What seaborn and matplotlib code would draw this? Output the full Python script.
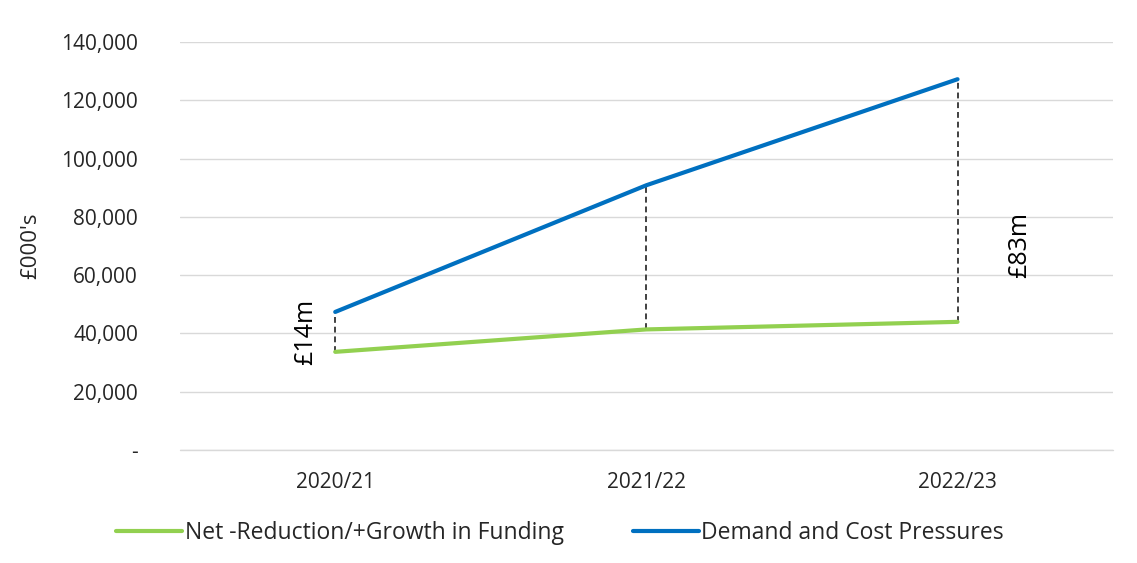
import matplotlib
matplotlib.use("Agg")
import matplotlib.pyplot as plt
import seaborn as sns
import pandas as pd

# data
years = ["2020/21", "2021/22", "2022/23"]
funding = [33700, 41400, 44000]
demand = [47400, 90900, 127300]
gap_labels = ["£14m", "", "£83m"]

sns.set_theme(style="white")
plt.rcParams["font.family"] = ["Open Sans", "DejaVu Sans"]

df = pd.DataFrame({
    "year": years * 2,
    "value": funding + demand,
    "series": ["Net -Reduction/+Growth in Funding"] * 3 + ["Demand and Cost Pressures"] * 3,
})

fig = plt.figure(figsize=(11.37, 5.63), dpi=100)
ax = fig.add_axes([0.158, 0.2007, 0.821, 0.7243])

sns.lineplot(data=df, x="year", y="value", hue="series",
             palette=["#92D050", "#0070C0"], linewidth=3, ax=ax,
             sort=False, legend=True)

# dashed gap markers
for i in range(len(years)):
    ax.plot([i, i], [funding[i], demand[i]], color="#404040",
            linestyle=(0, (3, 2)), linewidth=1.4, zorder=1)

ax.text(0 - 0.095, (funding[0] + demand[0]) / 2, gap_labels[0], rotation=90,
        ha="center", va="center", fontsize=18, color="black")
ax.text(2 + 0.2, 70300, gap_labels[2], rotation=90,
        ha="center", va="center", fontsize=18, color="black")

ax.set_xlim(-0.5, 2.5)
ax.set_ylim(0, 140000)
ax.set_yticks(range(0, 140001, 20000))
ax.set_yticklabels(["-" if v == 0 else f"{v:,}" for v in range(0, 140001, 20000)],
                   fontsize=15, color="#262626")
ax.tick_params(axis="x", labelsize=15, colors="#262626", pad=10)
ax.tick_params(axis="y", pad=24)
ax.grid(axis="y", color="#d9d9d9", linewidth=1)
ax.axhline(0, color="#d9d9d9", linewidth=1, clip_on=False, zorder=0)
ax.set_axisbelow(True)
for s in ax.spines.values():
    s.set_visible(False)

ax.set_xlabel("")
ax.set_ylabel("£000's", fontsize=16, color="#262626", labelpad=14)

handles, labels = ax.get_legend_handles_labels()
ax.get_legend().remove()
fig.legend(handles, labels, loc="center", bbox_to_anchor=(0.4925, 0.053),
           ncol=2, frameon=False, fontsize=16.5, handlelength=2.9,
           handletextpad=0.1, columnspacing=3.0)

fig.savefig("out.png", dpi=100)
